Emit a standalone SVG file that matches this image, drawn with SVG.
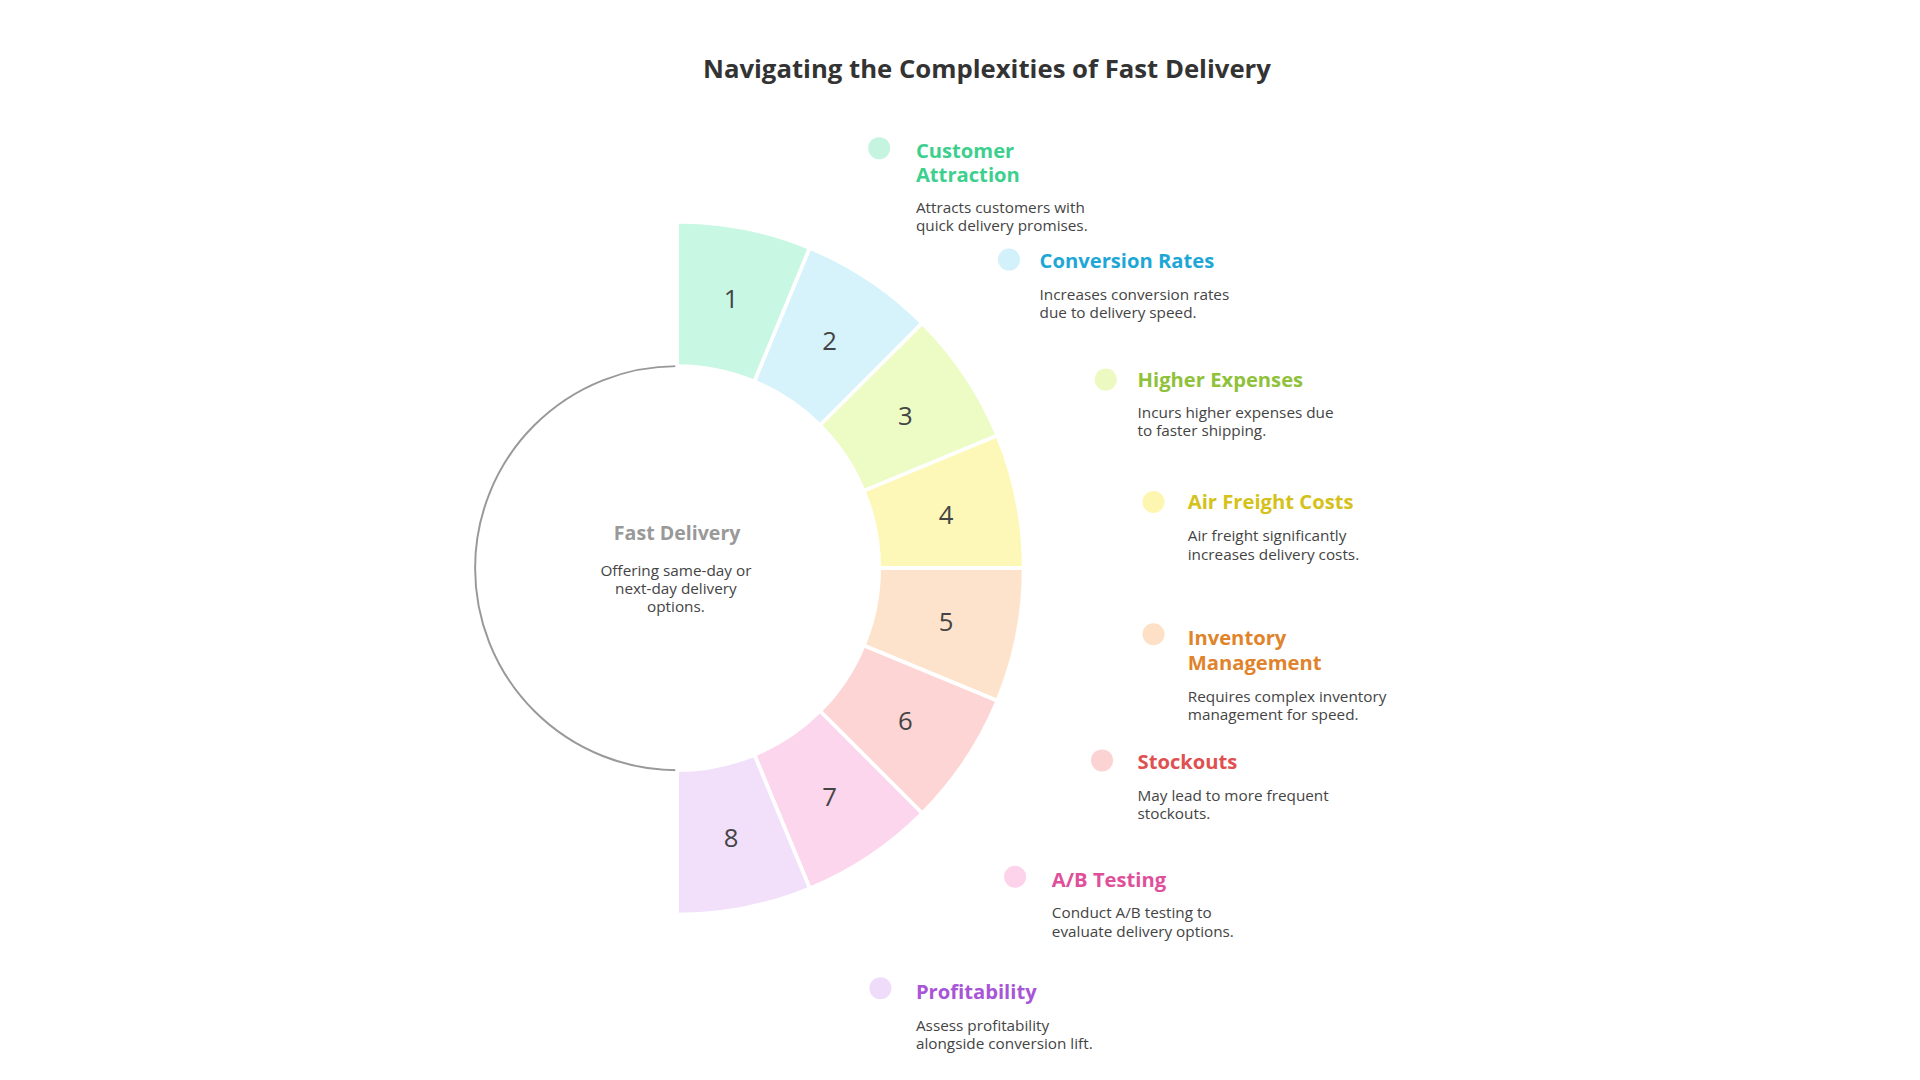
<svg xmlns="http://www.w3.org/2000/svg" width="1920" height="1080" viewBox="0 0 1920 1080">
<style>
text{font-family:"Open Sans","Liberation Sans",sans-serif}
.t{font-size:16.5px;font-weight:700}
.d{font-size:12.5px;fill:#444}
.n{font-size:21px;fill:#444;text-anchor:middle;dominant-baseline:central}
.seg path{stroke:#fff;stroke-width:3}
</style>
<rect width="1920" height="1080" fill="#fff"/>
<g transform="scale(1.2245)">
<text x="806" y="64" text-anchor="middle" font-size="21" font-weight="700" fill="#333">Navigating the Complexities of Fast Delivery</text>
<g id="center">
<circle cx="553" cy="464" r="165" fill="#fff" stroke="#999" stroke-width="1.6"/>
<text x="553" y="441" text-anchor="middle" font-size="16" font-weight="700" fill="#999">Fast Delivery</text>
<text x="552" y="470" text-anchor="middle" class="d">Offering same-day or</text>
<text x="552" y="485" text-anchor="middle" class="d">next-day delivery</text>
<text x="552" y="500" text-anchor="middle" class="d">options.</text>
</g>
<g class="seg">
<g id="seg1"><path d="M553,299 L553,181 A283,283 0 0 1 661.3,202.5 L616.1,311.6 A165,165 0 0 0 553,299Z" fill="#c8f7e4"/><text class="n" x="597" y="244">1</text></g>
<g id="seg2"><path d="M616.1,311.6 L661.3,202.5 A283,283 0 0 1 753.1,263.9 L669.7,347.3 A165,165 0 0 0 616.1,311.6Z" fill="#d6f3fc"/><text class="n" x="677.5" y="277.7">2</text></g>
<g id="seg3"><path d="M669.7,347.3 L753.1,263.9 A283,283 0 0 1 814.5,355.7 L705.4,400.9 A165,165 0 0 0 669.7,347.3Z" fill="#ecfcc4"/><text class="n" x="739.3" y="339.5">3</text></g>
<g id="seg4"><path d="M705.4,400.9 L814.5,355.7 A283,283 0 0 1 836,464 L718,464 A165,165 0 0 0 705.4,400.9Z" fill="#fdf8b8"/><text class="n" x="772.7" y="420.3">4</text></g>
<g id="seg5"><path d="M718,464 L836,464 A283,283 0 0 1 814.5,572.3 L705.4,527.1 A165,165 0 0 0 718,464Z" fill="#fee3cc"/><text class="n" x="772.7" y="507.7">5</text></g>
<g id="seg6"><path d="M705.4,527.1 L814.5,572.3 A283,283 0 0 1 753.1,664.1 L669.7,580.7 A165,165 0 0 0 705.4,527.1Z" fill="#fdd5d5"/><text class="n" x="739.3" y="588.5">6</text></g>
<g id="seg7"><path d="M669.7,580.7 L753.1,664.1 A283,283 0 0 1 661.3,725.5 L616.1,616.4 A165,165 0 0 0 669.7,580.7Z" fill="#fcd6ed"/><text class="n" x="677.5" y="650.3">7</text></g>
<g id="seg8"><path d="M616.1,616.4 L661.3,725.5 A283,283 0 0 1 553,747 L553,629 A165,165 0 0 0 616.1,616.4Z" fill="#f2e0fb"/><text class="n" x="597" y="684">8</text></g>
</g>
<g id="l1"><circle cx="718" cy="121" r="9" fill="#c5f5e0"/><text class="t" x="748" y="129" fill="#3dcf8e">Customer</text><text class="t" x="748" y="149" fill="#3dcf8e">Attraction</text><text class="d" x="748" y="174">Attracts customers with</text><text class="d" x="748" y="189">quick delivery promises.</text></g>
<g id="l2"><circle cx="824" cy="212" r="9" fill="#d3f1fb"/><text class="t" x="849" y="219" fill="#1ea7d6">Conversion Rates</text><text class="d" x="849" y="245">Increases conversion rates</text><text class="d" x="849" y="260">due to delivery speed.</text></g>
<g id="l3"><circle cx="903" cy="310" r="9" fill="#ecf9c0"/><text class="t" x="929" y="316" fill="#8fc23a">Higher Expenses</text><text class="d" x="929" y="341">Incurs higher expenses due</text><text class="d" x="929" y="356">to faster shipping.</text></g>
<g id="l4"><circle cx="942" cy="410" r="9" fill="#fdf6b0"/><text class="t" x="970" y="416" fill="#d4c21a">Air Freight Costs</text><text class="d" x="970" y="442">Air freight significantly</text><text class="d" x="970" y="457">increases delivery costs.</text></g>
<g id="l5"><circle cx="942" cy="518" r="9" fill="#fde0c5"/><text class="t" x="970" y="527" fill="#e0832a">Inventory</text><text class="t" x="970" y="547" fill="#e0832a">Management</text><text class="d" x="970" y="573">Requires complex inventory</text><text class="d" x="970" y="588">management for speed.</text></g>
<g id="l6"><circle cx="900" cy="621" r="9" fill="#fcd3d3"/><text class="t" x="929" y="628" fill="#e05050">Stockouts</text><text class="d" x="929" y="654">May lead to more frequent</text><text class="d" x="929" y="669">stockouts.</text></g>
<g id="l7"><circle cx="829" cy="716" r="9" fill="#fcd3ea"/><text class="t" x="859" y="724" fill="#e0509a">A/B Testing</text><text class="d" x="859" y="750">Conduct A/B testing to</text><text class="d" x="859" y="765">evaluate delivery options.</text></g>
<g id="l8"><circle cx="719" cy="807" r="9" fill="#efdcfb"/><text class="t" x="748" y="816" fill="#a855d6">Profitability</text><text class="d" x="748" y="842">Assess profitability</text><text class="d" x="748" y="857">alongside conversion lift.</text></g>
</g>
</svg>
